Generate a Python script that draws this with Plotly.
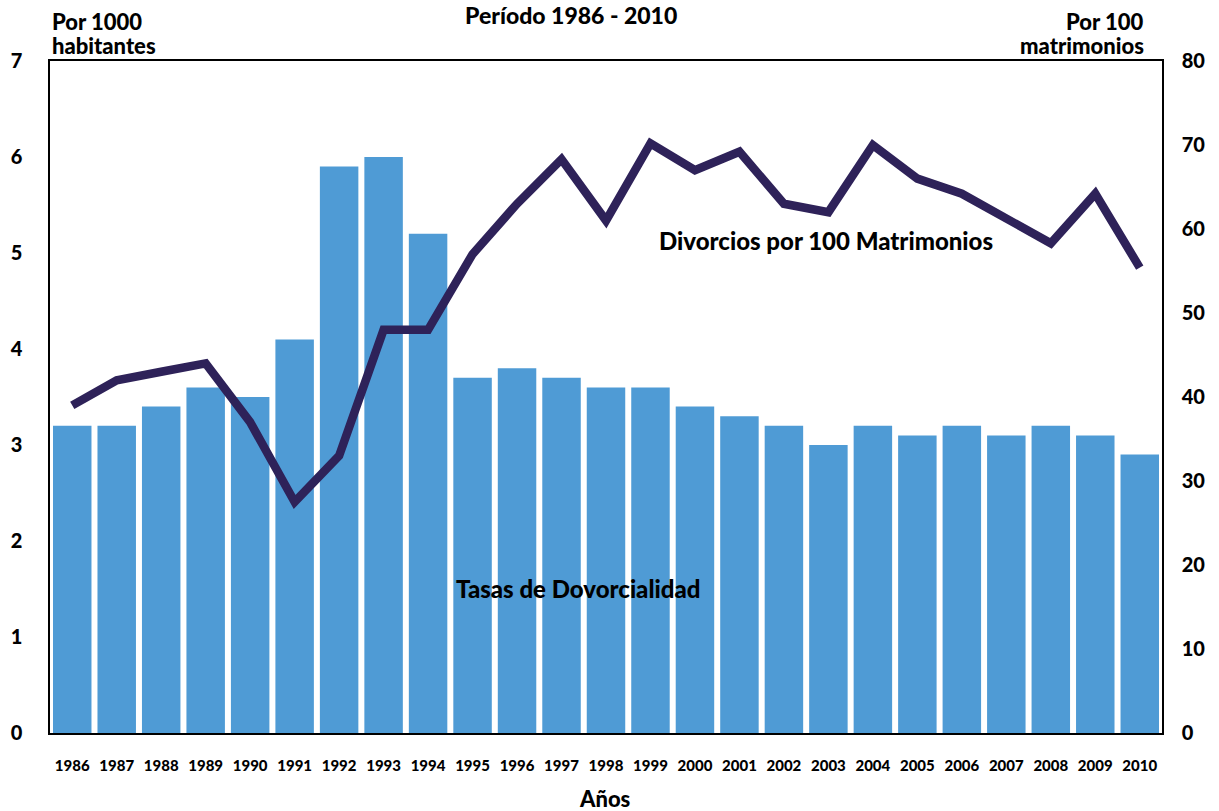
import plotly.graph_objects as go

years = [str(y) for y in range(1986, 2011)]
tasas = [3.2, 3.2, 3.4, 3.6, 3.5, 4.1, 5.9, 6.0, 5.2, 3.7, 3.8, 3.7, 3.6, 3.6, 3.4, 3.3,
         3.2, 3.0, 3.2, 3.1, 3.2, 3.1, 3.2, 3.1, 2.9]
divorcios = [39, 42, 43, 44, 37, 27.5, 33, 48, 48, 57, 63, 68.3, 61, 70.2, 67, 69.2,
             63, 62, 70, 66, 64.2, 61.2, 58.3, 64.2, 55.4]

left_ticks = [0, 1, 2, 3, 4, 5, 6, 7]
right_ticks = [0, 10, 20, 30, 40, 50, 60, 70, 80]

FONT = "Lato"
W = 900
fig = go.Figure()
fig.add_trace(go.Bar(x=years, y=tasas, marker=dict(color="#4F9BD5", line=dict(width=0)),
                     yaxis="y", name="Tasas de Dovorcialidad"))
fig.add_trace(go.Scatter(x=years, y=divorcios, mode="lines", yaxis="y2",
                         line=dict(color="#2E2259", width=8.5), name="Divorcios por 100 Matrimonios"))

fig.update_layout(
    width=1219, height=811,
    margin=dict(l=50, r=57, t=61, b=78, autoexpand=False),
    paper_bgcolor="white", plot_bgcolor="white",
    showlegend=False, bargap=0.135,
    font=dict(family=FONT, color="black"),
    xaxis=dict(type="category", showline=True, linecolor="black", linewidth=1.5, mirror=True,
               ticks="", tickfont=dict(size=15, family=FONT, weight=W),
               showgrid=False, range=[-0.5, 24.5], ticklabelstandoff=18),
    yaxis=dict(range=[0, 7], tickvals=left_ticks, showline=True, linecolor="black", linewidth=1.5,
               ticks="", showgrid=False, zeroline=False,
               tickfont=dict(size=20, family=FONT, weight=W), ticklabelstandoff=22),
    yaxis2=dict(range=[0, 80], tickvals=right_ticks, overlaying="y", side="right",
                showline=True, linecolor="black", linewidth=1.5, ticks="", showgrid=False,
                zeroline=False, tickfont=dict(size=20, family=FONT, weight=W),
                ticklabelstandoff=14),
)

f22 = dict(family=FONT, size=22, color="black", weight=W)
f24 = dict(family=FONT, size=24, color="black", weight=W)


def ann(text, x, y, xanchor="center", yanchor="middle", yshift=0, font=f22):
    fig.add_annotation(text=text, xref="paper", yref="paper", x=x, y=y, yshift=yshift,
                       xanchor=xanchor, yanchor=yanchor, showarrow=False, font=font)


ann("Período 1986 - 2010", 0.4685, 1.0, yshift=46, font=dict(f22, size=23))
ann("Por 1000", 0.0, 1.0, xanchor="left", yshift=40)
ann("habitantes", 0.0, 1.0, xanchor="left", yshift=16)
ann("Por 100", 0.986, 1.0, xanchor="right", yshift=40)
ann("matrimonios", 0.986, 1.0, xanchor="right", yshift=16)
ann("Divorcios por 100 Matrimonios", 0.698, 0.7336, font=f24)
ann("Tasas de Dovorcialidad", 0.475, 0.2143, font=f24)
ann("Años", 0.499, 0.0, yshift=-65)

fig.write_html("out.html", config={"displayModeBar": False},
               post_script="document.body.style.margin='0';document.body.style.overflow='hidden';")
